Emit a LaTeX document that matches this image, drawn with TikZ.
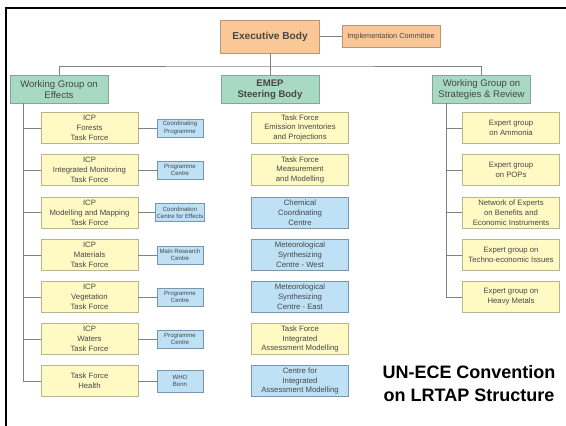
\documentclass[tikz,border=0pt]{standalone}
\usepackage{fontspec}
\setmainfont{Liberation Sans}

\definecolor{execfill}{RGB}{250,200,150}
\definecolor{execline}{RGB}{185,150,115}
\definecolor{groupfill}{RGB}{168,218,195}
\definecolor{groupline}{RGB}{135,165,150}
\definecolor{taskfill}{RGB}{255,250,195}
\definecolor{taskline}{RGB}{185,180,140}
\definecolor{centrefill}{RGB}{190,225,245}
\definecolor{centreline}{RGB}{120,150,175}
\definecolor{linkgray}{RGB}{128,128,128}
\definecolor{boxtext}{RGB}{70,70,70}

\tikzset{
  link/.style={draw=linkgray, line width=0.6pt},
  plainbox/.style={draw, line width=0.7pt, align=center, inner sep=0.5pt, text=boxtext},
  execbox/.style={plainbox, draw=execline, fill=execfill, minimum width=24.75mm, minimum height=8.25mm,
    font=\fontsize{7.2}{8.5}\selectfont\bfseries},
  implbox/.style={plainbox, draw=execline, fill=execfill, minimum width=24.5mm, minimum height=5.5mm,
    font=\fontsize{5.2}{6}\selectfont},
  groupbox/.style={plainbox, draw=groupline, fill=groupfill, minimum width=24.5mm, minimum height=7mm,
    font=\fontsize{6.8}{8.2}\selectfont},
  taskbox/.style={plainbox, draw=taskline, fill=taskfill, minimum width=24.25mm, minimum height=7.75mm,
    font=\fontsize{5.5}{7}\selectfont},
  centrebox/.style={taskbox, draw=centreline, fill=centrefill},
  smallbox/.style={plainbox, draw=centreline, fill=centrefill, minimum width=11.5mm, minimum height=4.5mm,
    font=\fontsize{4.3}{5.2}\selectfont}
}

\begin{document}
\begin{tikzpicture}[x=0.25mm, y=-0.25mm]
        \useasboundingbox (0,0) rectangle (566,426);
        \draw[line width=1.5pt] (6,426) -- (6,8) -- (566,8);

        \node[execbox] (Executive Body) at (270,36.5) {Executive Body};
        \node[implbox] (Implementation) at (391,36.5) {Implementation Committee};

        \node[groupbox] (Effects) at (59,89.5) {Working Group on\\Effects};
        \node[groupbox, font=\fontsize{6.8}{8.2}\selectfont\bfseries] (EMEP) at (270,89.5) {EMEP\\Steering Body};
        \node[groupbox] (Strategies) at (481.5,89.5) {Working Group on\\Strategies \& Review};

        % effects column
        \node[taskbox] (Forests) at (89.5,128) {ICP\\Forests\\Task Force};
        \node[taskbox] (Monitoring) at (89.5,170) {ICP\\Integrated Monitoring\\Task Force};
        \node[taskbox] (Mapping) at (89.5,212.5) {ICP\\Modelling and Mapping\\Task Force};
        \node[taskbox] (Materials) at (89.5,255) {ICP\\Materials\\Task Force};
        \node[taskbox] (Vegetation) at (89.5,297) {ICP\\Vegetation\\Task Force};
        \node[taskbox] (Waters) at (89.5,339) {ICP\\Waters\\Task Force};
        \node[taskbox] (Health) at (89.5,381) {Task Force\\Health};

        \node[smallbox] (Forests Centre) at (180,128) {Coordinating\\Programme};
        \node[smallbox] (Monitoring Centre) at (180,170) {Programme\\Centre};
        \node[smallbox] (Mapping Centre) at (180,212.5) {Coordination\\Centre for Effects};
        \node[smallbox] (Materials Centre) at (180,255) {Main Research\\Centre};
        \node[smallbox] (Vegetation Centre) at (180,297) {Programme\\Centre};
        \node[smallbox] (Waters Centre) at (180,339) {Programme\\Centre};
        \node[smallbox, minimum height=5.5mm] (Health Centre) at (180,381) {WHO\\Bonn};

        % EMEP column
        \node[taskbox] (Emission) at (300,128) {Task Force\\Emission Inventories\\and Projections};
        \node[taskbox] (Measurement) at (300,170) {Task Force\\Measurement\\and Modelling};
        \node[centrebox] (Chemical) at (300,212.5) {Chemical\\Coordinating\\Centre};
        \node[centrebox] (West) at (300,255) {Meteorological\\Synthesizing\\Centre - West};
        \node[centrebox] (East) at (300,297) {Meteorological\\Synthesizing\\Centre - East};
        \node[taskbox] (Assessment) at (300,339) {Task Force\\Integrated\\Assessment Modelling};
        \node[centrebox] (Assessment Centre) at (300,381) {Centre for\\Integrated\\Assessment Modelling};

        % strategies column
        \node[taskbox] (Ammonia) at (511,128) {Expert group\\on Ammonia};
        \node[taskbox] (POPs) at (511,170) {Expert group\\on POPs};
        \node[taskbox] (Benefits) at (511,212.5) {Network of Experts\\on Benefits and\\Economic Instruments};
        \node[taskbox] (Techno) at (511,255) {Expert group on\\Techno-economic Issues};
        \node[taskbox] (Heavy Metals) at (511,297) {Expert group on\\Heavy Metals};

        \node[align=center, font=\fontsize{12.8}{16.3}\selectfont\bfseries] (Caption) at (469,384)
                {UN-ECE Convention\\on LRTAP Structure};

        \coordinate (Bus) at (270,66);
        \coordinate (Effects Spine) at (23,103.5);
        \coordinate (Strategies Spine) at (446,103.5);

        \draw[link] (Executive Body) -- (Implementation);
        \draw[link] (Executive Body) -- (EMEP);
        \draw[link] (Effects) |- (Bus) -| (Strategies);

        \draw[link] (Effects Spine) |- (Health);
        \draw[link] (Effects Spine |- Forests) -- (Forests);
        \draw[link] (Effects Spine |- Monitoring) -- (Monitoring);
        \draw[link] (Effects Spine |- Mapping) -- (Mapping);
        \draw[link] (Effects Spine |- Materials) -- (Materials);
        \draw[link] (Effects Spine |- Vegetation) -- (Vegetation);
        \draw[link] (Effects Spine |- Waters) -- (Waters);

        \draw[link] (Forests) -- (Forests Centre);
        \draw[link] (Monitoring) -- (Monitoring Centre);
        \draw[link] (Mapping) -- (Mapping Centre);
        \draw[link] (Materials) -- (Materials Centre);
        \draw[link] (Vegetation) -- (Vegetation Centre);
        \draw[link] (Waters) -- (Waters Centre);
        \draw[link] (Health) -- (Health Centre);

        \draw[link] (Strategies Spine) |- (Heavy Metals);
        \draw[link] (Strategies Spine |- Ammonia) -- (Ammonia);
        \draw[link] (Strategies Spine |- POPs) -- (POPs);
        \draw[link] (Strategies Spine |- Benefits) -- (Benefits);
        \draw[link] (Strategies Spine |- Techno) -- (Techno);
\end{tikzpicture}
\end{document}
